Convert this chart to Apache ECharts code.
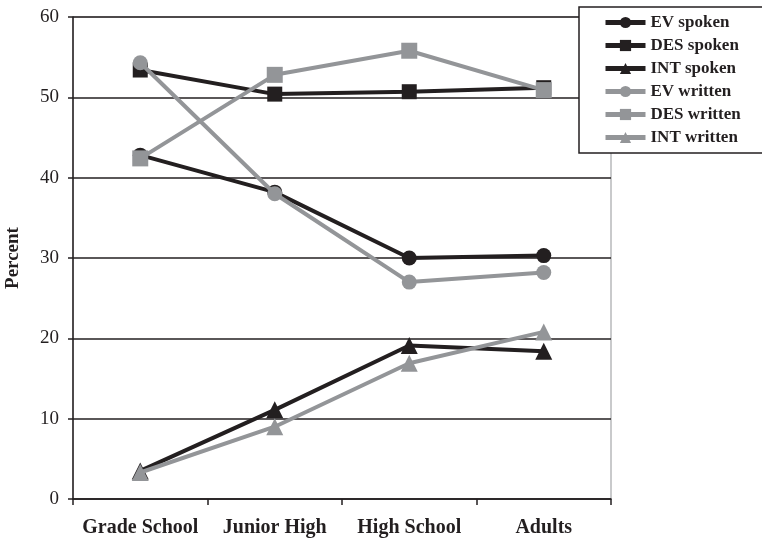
<!DOCTYPE html>
<html>
<head>
<meta charset="utf-8">
<script src="https://cdn.jsdelivr.net/npm/echarts@6/dist/echarts.min.js"></script>
<style>
  html, body { margin: 0; padding: 0; background: #fff; }
  #chart { width: 762px; height: 544px; }
</style>
</head>
<body>
<div id="chart"></div>
<script>
// categories and values
const categories = ["Grade School", "Junior High", "High School", "Adults"];
const evSpoken = [42.8, 38.2, 30.0, 30.3];
const desSpoken = [53.4, 50.4, 50.7, 51.2];
const intSpoken = [3.5, 11.1, 19.1, 18.4];
const evWritten = [54.3, 38.0, 27.0, 28.2];
const desWritten = [42.4, 52.8, 55.8, 50.9];
const intWritten = [3.3, 9.0, 16.9, 20.8];

const dark = "#231f20";
const grey = "#939598";
const serif = "Liberation Serif";

let chart = echarts.init(document.getElementById("chart"));

function makeSeries(name, data, color, symbol, size, z) {
    return {
        name: name,
        type: "line",
        data: data,
        symbol: symbol,
        symbolSize: size,
        z: z,
        lineStyle: { color: color, width: 4 },
        itemStyle: { color: color },
        emphasis: { disabled: true }
    };
}

let option = {
    animation: false,
    backgroundColor: "#fff",
    grid: {
        left: 73, right: 151, top: 17, bottom: 45,
        containLabel: false,
        outerBoundsMode: "none",
        show: true,
        borderColor: grey,
        borderWidth: 1
    },
    legend: {
        orient: "vertical",
        left: 579,
        top: 7,
        padding: [7, 60, 7, 24],
        itemWidth: 40,
        itemHeight: 14,
        itemGap: 6,
        backgroundColor: "#fff",
        borderColor: dark,
        borderWidth: 1.5,
        z: 10,
        lineStyle: { width: 5 },
        textStyle: { fontFamily: serif, fontWeight: "bold", fontSize: 17, color: dark },
        data: ["EV spoken", "DES spoken", "INT spoken", "EV written", "DES written", "INT written"]
    },
    xAxis: {
        type: "category",
        data: categories,
        boundaryGap: true,
        axisLine: { lineStyle: { color: dark, width: 1.5 } },
        axisTick: { show: true, interval: 0, length: 6, lineStyle: { color: dark, width: 1.5 } },
        axisLabel: { interval: 0, fontFamily: serif, fontWeight: "bold", fontSize: 20, color: dark, margin: 19 },
        splitLine: { show: false }
    },
    yAxis: {
        type: "value",
        min: 0,
        max: 60,
        interval: 10,
        name: "Percent",
        nameLocation: "middle",
        nameGap: 50,
        nameTextStyle: { fontFamily: serif, fontWeight: "bold", fontSize: 19, color: dark },
        axisLine: { show: true, lineStyle: { color: dark, width: 1.5 } },
        axisTick: { show: true, length: 5, lineStyle: { color: dark, width: 1.5 } },
        axisLabel: { fontFamily: serif, fontSize: 19, color: dark, margin: 14 },
        splitLine: { show: true, lineStyle: { color: dark, width: 1.5 } }
    },
    series: [
        makeSeries("EV spoken", evSpoken, dark, "circle", 15, 3),
        makeSeries("DES spoken", desSpoken, dark, "rect", 15, 3),
        makeSeries("INT spoken", intSpoken, dark, "triangle", 17, 3),
        makeSeries("EV written", evWritten, grey, "circle", 15, 4),
        makeSeries("DES written", desWritten, grey, "rect", 16, 4),
        makeSeries("INT written", intWritten, grey, "triangle", 17, 4)
    ]
};

chart.setOption(option);
</script>
</body>
</html>
